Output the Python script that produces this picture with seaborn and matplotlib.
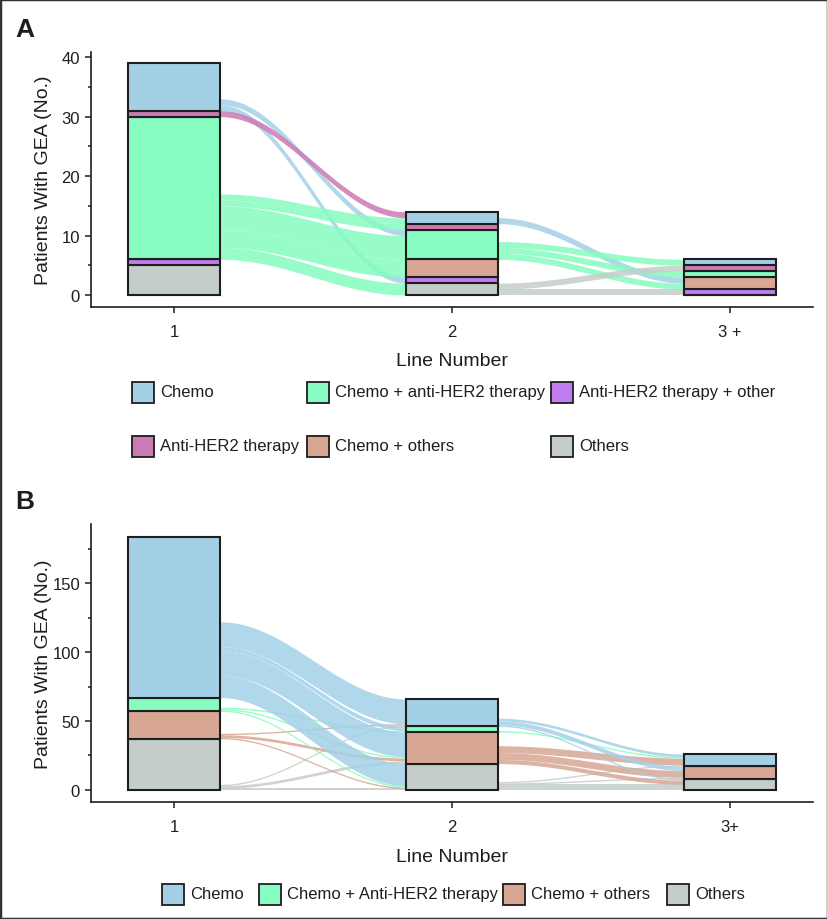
import numpy as np
import pandas as pd
import matplotlib
matplotlib.use("Agg")
import matplotlib.pyplot as plt
import seaborn as sns
from matplotlib.patches import Rectangle

# ---------------- data ----------------
lines = [1, 2, 3]
tick_labels_A = ["1", "2", "3 +"]
tick_labels_B = ["1", "2", "3+"]

# Panel A strata, top to bottom in the stack
A_strata = ["Chemo", "Anti-HER2 therapy", "Chemo + anti-HER2 therapy",
            "Chemo + others", "Anti-HER2 therapy + other", "Others"]
A_chemo = [8, 2, 1]
A_antiher2 = [1, 1, 1]
A_chemo_antiher2 = [24, 5, 1]
A_chemo_others = [0, 3, 2]
A_antiher2_other = [1, 1, 1]
A_others = [5, 2, 0]

# flows (source stratum, target stratum, patients)
A_flows_1_2 = [("Chemo", "Anti-HER2 therapy + other", 1),
               ("Chemo", "Chemo + anti-HER2 therapy", 1),
               ("Anti-HER2 therapy", "Chemo", 1),
               ("Chemo + anti-HER2 therapy", "Others", 2),
               ("Chemo + anti-HER2 therapy", "Chemo + others", 3),
               ("Chemo + anti-HER2 therapy", "Chemo + anti-HER2 therapy", 4),
               ("Chemo + anti-HER2 therapy", "Anti-HER2 therapy", 1),
               ("Chemo + anti-HER2 therapy", "Chemo", 1)]
A_flows_2_3 = [("Chemo", "Chemo + others", 1),
               ("Chemo + anti-HER2 therapy", "Chemo + others", 1),
               ("Chemo + anti-HER2 therapy", "Chemo + anti-HER2 therapy", 1),
               ("Chemo + anti-HER2 therapy", "Chemo", 1),
               ("Others", "Anti-HER2 therapy + other", 1),
               ("Others", "Anti-HER2 therapy", 1)]

# Panel B strata, top to bottom
B_strata = ["Chemo", "Chemo + Anti-HER2 therapy", "Chemo + others", "Others"]
B_chemo = [117, 20, 9]
B_chemo_antiher2 = [10, 4, 0]
B_chemo_others = [20, 23, 9]
B_others = [37, 19, 8]

B_flows_1_2 = [("Others", "Others", 1), ("Others", "Chemo + others", 2), ("Others", "Chemo", 1),
               ("Chemo + others", "Others", 1), ("Chemo + others", "Chemo + others", 2),
               ("Chemo + others", "Chemo", 1),
               ("Chemo + Anti-HER2 therapy", "Others", 1),
               ("Chemo + Anti-HER2 therapy", "Chemo + others", 1),
               ("Chemo + Anti-HER2 therapy", "Chemo + Anti-HER2 therapy", 1),
               ("Chemo", "Others", 16), ("Chemo", "Chemo + others", 18),
               ("Chemo", "Chemo + Anti-HER2 therapy", 3), ("Chemo", "Chemo", 18)]
B_flows_2_3 = [("Others", "Others", 4), ("Others", "Chemo + others", 1), ("Others", "Chemo", 1),
               ("Chemo + others", "Others", 3), ("Chemo + others", "Chemo + others", 5),
               ("Chemo + others", "Chemo", 5),
               ("Chemo + Anti-HER2 therapy", "Chemo", 1),
               ("Chemo", "Others", 1), ("Chemo", "Chemo + others", 3), ("Chemo", "Chemo", 2)]

A_legend_rows = [["Chemo", "Chemo + anti-HER2 therapy", "Anti-HER2 therapy + other"],
                 ["Anti-HER2 therapy", "Chemo + others", "Others"]]
B_legend = ["Chemo", "Chemo + Anti-HER2 therapy", "Chemo + others", "Others"]

# ---------------- style ----------------
C_CHEMO = "#a4d0e7"
C_CAH = "#86fcc0"
C_AHO = "#c17df0"
C_AH = "#cc7ab2"
C_CO = "#d8a794"
C_OTH = "#c5cdca"
A_colors = {"Chemo": C_CHEMO, "Anti-HER2 therapy": C_AH,
            "Chemo + anti-HER2 therapy": C_CAH, "Chemo + others": C_CO,
            "Anti-HER2 therapy + other": C_AHO, "Others": C_OTH}
B_colors = {"Chemo": C_CHEMO, "Chemo + Anti-HER2 therapy": C_CAH,
            "Chemo + others": C_CO, "Others": C_OTH}

sns.set_theme(style="ticks")
plt.rcParams['font.family'] = ['Liberation Sans', 'DejaVu Sans']
INK = "#1e1e1e"

W, H = 828, 920
fig = plt.figure(figsize=(W / 100, H / 100), dpi=100)
fig.patch.set_facecolor("white")


def rect(l, r, t, b):
    return [l / W, 1 - b / H, (r - l) / W, (b - t) / H]


AX_L, AX_R = 90.7, 813.4
axA = fig.add_axes(rect(AX_L, AX_R, 52.6, 307.6))
axB = fig.add_axes(rect(AX_L, AX_R, 524.9, 803.4))

BW = 1 / 3


def draw_panel(ax, strata, counts, flows_list, colors, ylim, major, minor, ticklabels):
    df = pd.DataFrame([(ln, s, counts[s][i]) for s in strata for i, ln in enumerate(lines)],
                      columns=["line", "stratum", "n"])
    sns.histplot(data=df, x="line", weights="n", hue="stratum", hue_order=strata,
                 palette=colors, multiple="stack", discrete=True, shrink=BW,
                 edgecolor=INK, linewidth=1.5, alpha=1, legend=False, ax=ax, zorder=3)
    bottom_up = strata[::-1]
    order = {s: k for k, s in enumerate(bottom_up)}

    def bottoms(li):
        b, acc = {}, 0
        for s in bottom_up:
            b[s] = acc
            acc += counts[s][li]
        return b

    t = np.linspace(0, 1, 200)
    sm = (1 - np.cos(np.pi * t)) / 2
    for step, flows in enumerate(flows_list):
        b0, b1 = bottoms(step), bottoms(step + 1)
        src, tgt = {}, {}
        for s in bottom_up:
            y = b0[s]
            for f in sorted([f for f in flows if f[0] == s], key=lambda f: order[f[1]]):
                src[f] = y
                y += f[2]
            y = b1[s]
            for f in sorted([f for f in flows if f[1] == s], key=lambda f: order[f[0]]):
                tgt[f] = y
                y += f[2]
        x0, x1 = lines[step] + BW / 2, lines[step + 1] - BW / 2
        xs = x0 + (x1 - x0) * t
        for f in flows:
            lo = src[f] + (tgt[f] - src[f]) * sm
            ax.fill_between(xs, lo, lo + f[2], color=colors[f[0]], alpha=0.85,
                            lw=0, zorder=1)
    ax.set_xlim(0.7, 3.3)
    ax.set_ylim(*ylim)
    ax.set_xticks(lines)
    ax.set_xticklabels(ticklabels)
    ax.set_yticks(major)
    ax.set_yticks(minor, minor=True)
    ax.set_xlabel("Line Number", fontsize=14, color=INK, labelpad=10)
    ax.set_ylabel("Patients With GEA (No.)", fontsize=14, color=INK)
    ax.yaxis.set_label_coords((52 - AX_L) / (AX_R - AX_L), 0.5)
    for sp in ["top", "right"]:
        ax.spines[sp].set_visible(False)
    for sp in ["left", "bottom"]:
        ax.spines[sp].set_linewidth(1.2)
        ax.spines[sp].set_color(INK)
    ax.tick_params(axis="both", which="major", length=4.2, width=1.1, color=INK,
                   labelsize=12, labelcolor=INK, pad=3.5)
    ax.tick_params(axis="y", which="minor", length=2.4, width=1.1, color=INK)
    ax.tick_params(axis="x", which="major", pad=8)
    ax.set_facecolor("white")
    ax.grid(False)


A_counts = {"Chemo": A_chemo, "Anti-HER2 therapy": A_antiher2,
            "Chemo + anti-HER2 therapy": A_chemo_antiher2, "Chemo + others": A_chemo_others,
            "Anti-HER2 therapy + other": A_antiher2_other, "Others": A_others}
B_counts = {"Chemo": B_chemo, "Chemo + Anti-HER2 therapy": B_chemo_antiher2,
            "Chemo + others": B_chemo_others, "Others": B_others}

draw_panel(axA, A_strata, A_counts, [A_flows_1_2, A_flows_2_3], A_colors,
           (-1.95, 40.95), [0, 10, 20, 30, 40], [5, 15, 25, 35], tick_labels_A)
draw_panel(axB, B_strata, B_counts, [B_flows_1_2, B_flows_2_3], B_colors,
           (-9.2, 193.2), [0, 50, 100, 150], [25, 75, 125, 175], tick_labels_B)


def legend_item(xpx, ypx, label, color):
    fig.add_artist(Rectangle((xpx / W, 1 - (ypx + 10.5) / H), 22 / W, 21 / H,
                             transform=fig.transFigure, facecolor=color,
                             edgecolor=INK, lw=1.3))
    fig.text((xpx + 28) / W, 1 - ypx / H, label, fontsize=12, color=INK,
             ha="left", va="center")


A_leg_x = [132, 307, 551]
A_leg_y = [393, 447]
for r, row in enumerate(A_legend_rows):
    for c, lab in enumerate(row):
        legend_item(A_leg_x[c], A_leg_y[r], lab, A_colors[lab])

B_leg_x = [162, 259, 503, 667]
for xx, lab in zip(B_leg_x, B_legend):
    legend_item(xx, 895, lab, B_colors[lab])

fig.text(15 / W, 1 - 37 / H, "A", fontsize=19, fontweight="bold", color=INK,
         ha="left", va="baseline")
fig.text(15 / W, 1 - 509 / H, "B", fontsize=19, fontweight="bold", color=INK,
         ha="left", va="baseline")

fig.add_artist(Rectangle((0, 0), 1, 1, transform=fig.transFigure, fill=False,
                         lw=2.5, edgecolor="#333333"))

fig.savefig("out.png", dpi=100)
